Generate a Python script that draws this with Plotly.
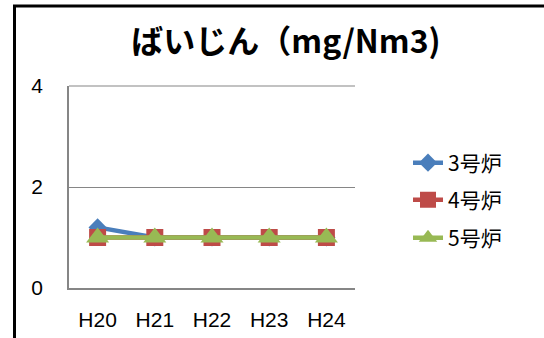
import plotly.graph_objects as go

categories = ["H20", "H21", "H22", "H23", "H24"]
series_names = ["3号炉", "4号炉", "5号炉"]
values_3 = [1.2, 1.0, 1.0, 1.0, 1.0]
values_4 = [1.0, 1.0, 1.0, 1.0, 1.0]
values_5 = [1.0, 1.0, 1.0, 1.0, 1.0]
y_ticks = [0, 2, 4]
title_text = "ばいじん（mg/Nm3)"

W, H = 544, 338
L, R, T, B = 69, 355, 86, 288  # plot area pixel bounds

def px_x(p):
    return (p - L) / (R - L)

def px_y(p):
    return (B - p) / (B - T)

styles = [
    dict(color="#4A7EBB", symbol="diamond", size=14),
    dict(color="#BE4B48", symbol="square", size=17),
    dict(color="#98B954", symbol="triangle-up", size=20),
]
data = [values_3, values_4, values_5]
legend_y = [163, 200, 238]

fig = go.Figure()
for i, (name, vals, st) in enumerate(zip(series_names, data, styles)):
    lg = "legend" if i == 0 else f"legend{i+1}"
    fig.add_trace(go.Scatter(
        x=categories, y=vals, name=name, mode="lines+markers",
        line=dict(color=st["color"], width=4.5),
        marker=dict(color=st["color"], symbol=st["symbol"], size=st["size"]),
        legend=lg,
    ))

legend_common = dict(
    xanchor="left", yanchor="middle", bgcolor="rgba(0,0,0,0)",
    font=dict(family="Noto Sans CJK JP, Liberation Sans, sans-serif", size=21, color="#000"),
)
layout_legends = {}
for i, ly in enumerate(legend_y):
    key = "legend" if i == 0 else f"legend{i+1}"
    layout_legends[key] = dict(x=px_x(408), y=px_y(ly), **legend_common)

tick_font = dict(family="Liberation Sans, Arial, sans-serif", size=21, color="#000")

fig.update_layout(
    template="none",
    width=W, height=H,
    margin=dict(l=L, r=W - R, t=T, b=H - B, pad=0, autoexpand=False),
    paper_bgcolor="white", plot_bgcolor="white",
    showlegend=True,
    hovermode=False,
    title=dict(text=title_text, x=286 / W, xanchor="center", y=1 - 42 / H, yanchor="middle",
               font=dict(family="Noto Sans CJK JP, sans-serif", size=32, color="#000", weight="bold")),
    xaxis=dict(
        type="category", range=[-0.5, 4.5], automargin=False,
        showline=True, linecolor="#868686", linewidth=1.5,
        showgrid=False, ticks="", ticklabelstandoff=12,
        tickfont=tick_font,
    ),
    yaxis=dict(
        range=[0, 4], tickvals=y_ticks, ticktext=[str(v) for v in y_ticks], automargin=False,
        showline=True, linecolor="#868686", linewidth=1.5,
        showgrid=True, gridcolor="#868686", gridwidth=1.2,
        zeroline=False, ticks="", ticklabelstandoff=20,
        tickfont=tick_font,
    ),
    shapes=[
        dict(type="line", xref="paper", yref="paper",
             x0=px_x(L), x1=px_x(R), y0=1, y1=1, line=dict(color="#868686", width=1.2), layer="below"),
        dict(type="path", xref="paper", yref="paper",
             path=f"M {px_x(14.5)},{px_y(H+5)} L {px_x(14.5)},{px_y(6)} L {px_x(W+5)},{px_y(6)}",
             line=dict(color="#000", width=3)),
    ],
    **layout_legends,
)

fig.write_html(
    "out.html",
    config={"displayModeBar": False},
    post_script="document.body.style.margin='0';document.body.style.overflow='hidden';",
)
